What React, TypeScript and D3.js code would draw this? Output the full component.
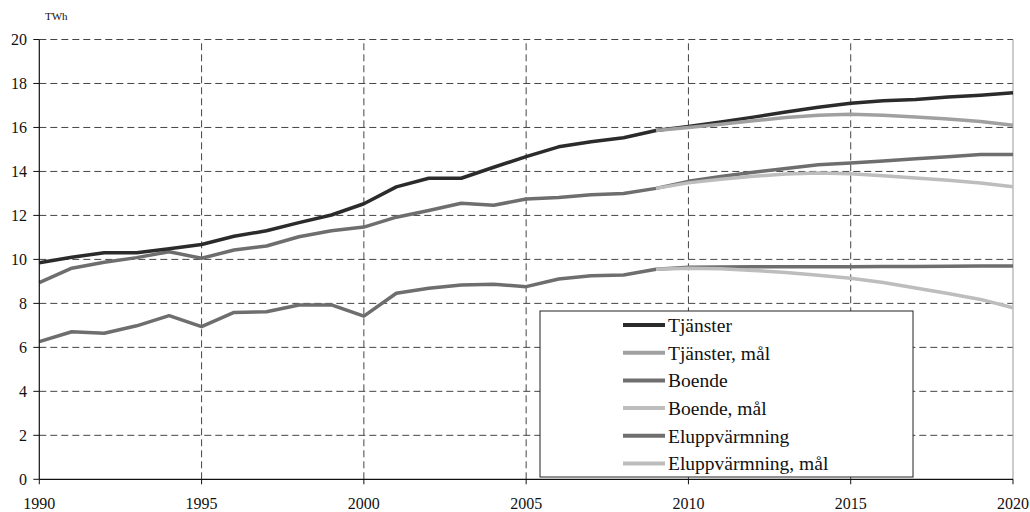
import React from "react";
import * as d3 from "d3";

const years = d3.range(1990, 2021);
const targetYears = d3.range(2009, 2021);

const tjanster = [9.85, 10.1, 10.3, 10.3, 10.48, 10.68, 11.05, 11.3, 11.67, 12.02, 12.53, 13.3, 13.69, 13.69, 14.19, 14.67, 15.12, 15.35, 15.53, 15.86, 16.05, 16.25, 16.47, 16.7, 16.92, 17.1, 17.22, 17.27, 17.38, 17.47, 17.58];
const tjansterMal = [15.86, 16.0, 16.15, 16.3, 16.45, 16.55, 16.6, 16.55, 16.48, 16.38, 16.27, 16.1];
const boende = [8.94, 9.6, 9.87, 10.08, 10.35, 10.05, 10.43, 10.61, 11.03, 11.3, 11.47, 11.92, 12.22, 12.55, 12.46, 12.75, 12.82, 12.94, 13.0, 13.23, 13.55, 13.77, 13.96, 14.13, 14.3, 14.38, 14.48, 14.58, 14.67, 14.77, 14.77];
const boendeMal = [13.23, 13.48, 13.65, 13.78, 13.88, 13.93, 13.9, 13.8, 13.7, 13.6, 13.47, 13.3];
const elupp = [6.26, 6.71, 6.64, 6.98, 7.44, 6.94, 7.59, 7.62, 7.93, 7.93, 7.42, 8.46, 8.69, 8.84, 8.87, 8.76, 9.11, 9.26, 9.29, 9.55, 9.64, 9.66, 9.67, 9.67, 9.67, 9.67, 9.68, 9.68, 9.69, 9.7, 9.7];
const eluppMal = [9.55, 9.6, 9.57, 9.5, 9.4, 9.28, 9.14, 8.95, 8.7, 8.45, 8.18, 7.8];

const yTicks = [0, 2, 4, 6, 8, 10, 12, 14, 16, 18, 20];
const xTicks = [1990, 1995, 2000, 2005, 2010, 2015, 2020];
const unitLabel = "TWh";

const seriesNames = ["Tjänster", "Tjänster, mål", "Boende", "Boende, mål", "Eluppvärmning", "Eluppvärmning, mål"];
const seriesColors = ["#2b2b2b", "#a0a0a0", "#6e6e6e", "#bdbdbd", "#6e6e6e", "#bdbdbd"];

export default function App() {
  const W = 1030, H = 512;
  const x = d3.scaleLinear().domain([1990, 2020]).range([39.3, 1013]);
  const y = d3.scaleLinear().domain([0, 20]).range([479.3, 39.5]);
  const line = d3.line<[number, number]>().x((d) => x(d[0])).y((d) => y(d[1]));
  const mk = (xs: number[], vs: number[]) => line(xs.map((yr, i) => [yr, vs[i]] as [number, number])) || "";

  const seriesData = [
    { xs: years, vs: tjanster },
    { xs: targetYears, vs: tjansterMal },
    { xs: years, vs: boende },
    { xs: targetYears, vs: boendeMal },
    { xs: years, vs: elupp },
    { xs: targetYears, vs: eluppMal },
  ];
  const drawOrder = [4, 2, 0, 5, 3, 1];
  const font = '"Liberation Serif"';
  const legendX = 540, legendY = 311, legendW = 373, legendH = 166;

  return (
    <svg width={W} height={H} style={{ position: "absolute", left: 0, top: 0, background: "#fff", fontFamily: font }}>
      <rect x={0} y={0} width={W} height={H} fill="#fff" />
      {yTicks.filter((t) => t > 0).map((t) => (
        <line key={"gy" + t} x1={x(1990)} x2={x(2020)} y1={y(t)} y2={y(t)} stroke="#444" strokeWidth={1} strokeDasharray="7,4" />
      ))}
      {xTicks.filter((t) => t > 1990 && t < 2020).map((t) => (
        <line key={"gx" + t} x1={x(t)} x2={x(t)} y1={y(0)} y2={y(20)} stroke="#444" strokeWidth={1} strokeDasharray="7,4" />
      ))}
      <line x1={x(2020)} x2={x(2020)} y1={y(20)} y2={y(0)} stroke="#999" strokeWidth={1} />
      {drawOrder.map((i) => (
        <path key={"s" + i} d={mk(seriesData[i].xs, seriesData[i].vs)} fill="none" stroke={seriesColors[i]} strokeWidth={3.5} strokeLinejoin="round" />
      ))}
      <line x1={x(1990)} x2={x(1990)} y1={y(20)} y2={y(0)} stroke="#111" strokeWidth={1.2} />
      <line x1={x(1990)} x2={x(2020)} y1={y(0)} y2={y(0)} stroke="#111" strokeWidth={1.2} />
      {yTicks.map((t) => (
        <g key={"ty" + t}>
          <line x1={x(1990) - 6} x2={x(1990)} y1={y(t)} y2={y(t)} stroke="#111" strokeWidth={1} />
          <text x={27} y={y(t)} dy="0.35em" textAnchor="end" fontSize={16} fill="#111" style={{ fontFamily: font }}>{t}</text>
        </g>
      ))}
      {xTicks.map((t) => (
        <g key={"tx" + t}>
          <line x1={x(t)} x2={x(t)} y1={y(0)} y2={y(0) + 5} stroke="#111" strokeWidth={1} />
          <text x={x(t)} y={509} textAnchor="middle" fontSize={16} fill="#111" style={{ fontFamily: font }}>{t}</text>
        </g>
      ))}
      <text x={45} y={20} fontSize={11} fill="#111" style={{ fontFamily: font }}>{unitLabel}</text>
      <rect x={legendX} y={legendY} width={legendW} height={legendH} fill="#fff" stroke="#222" strokeWidth={1} />
      {seriesNames.map((name, i) => {
        const ly = 325 + i * 27.7;
        return (
          <g key={"lg" + i}>
            <line x1={623} x2={665} y1={ly} y2={ly} stroke={seriesColors[i]} strokeWidth={4} />
            <text x={668} y={ly} dy="0.35em" fontSize={19.5} fill="#111" style={{ fontFamily: font }}>{name}</text>
          </g>
        );
      })}
    </svg>
  );
}
